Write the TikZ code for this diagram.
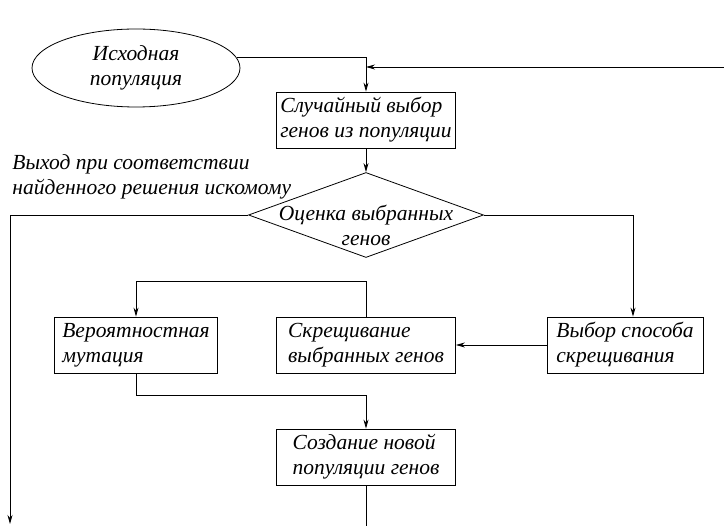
\documentclass[tikz,border=0pt]{standalone}
\usepackage{fontspec}
\setmainfont{Liberation Serif}
\usetikzlibrary{shapes.geometric,arrows.meta}

\begin{document}
\begin{tikzpicture}[
						x=1pt, y=-1pt,
						font=\fontsize{21.5}{25}\selectfont\itshape,
						every path/.style={line width=0.8pt},
						>={Stealth[length=9pt,width=5pt]},
						stepbox/.style={rectangle, draw=black, minimum height=56pt, minimum width=179pt, align=left},
						start/.style={ellipse, draw=black, minimum width=208pt, minimum height=78pt, align=center},
						check/.style={diamond, draw=black, minimum width=235pt, minimum height=85pt, inner sep=0pt},
						label/.style={rectangle, align=center, inner sep=0pt}
					]
					\useasboundingbox (0,0) rectangle (724,526);
					\node[start] (popul) at (136,68) {Исходная\\популяция};
					\node[stepbox] (select) at (366,120) {Случайный выбор\\генов из популяции};
					\node[check] (judge) at (366,215) {};
					\node[label] (judgetxt) at (366,225) {Оценка выбранных\\генов};
					\node[stepbox, minimum width=156pt] (method) at (625,345) {Выбор способа\\скрещивания};
					\node[stepbox] (cross) at (366,345) {Скрещивание\\выбранных генов};
					\node[stepbox, minimum width=163pt] (mutate) at (136,345) {Вероятностная\\мутация};
					\node[stepbox] (newpop) at (366,457) {Создание новой\\популяции генов};
					\node[label, align=left, anchor=north west] (exitlbl) at (12,154) {Выход при соответствии\\найденного решения искомому};
					\coordinate (loopin) at (724,67);
					\coordinate (exit) at (10,524);
					\coordinate (loopout) at (366,526);
					\draw[->] (popul.6) -| (select.north);
					\draw[->] (loopin) -- (loopin -| select.north);
					\draw[->] (select.south) -- (judge.north);
					\draw[->] (judge.west) -| (exit);
					\draw[->] (judge.east) -| ([xshift=8pt]method.north);
					\draw[->] (method.west) -- (cross.east);
					\draw[->] (cross.north) -- ++(0,-35) -| (mutate.north);
					\draw[->] (mutate.south) -- ++(0,22) -| (newpop.north);
					\draw (newpop.south) -- (loopout);
					\end{tikzpicture}
\end{document}
